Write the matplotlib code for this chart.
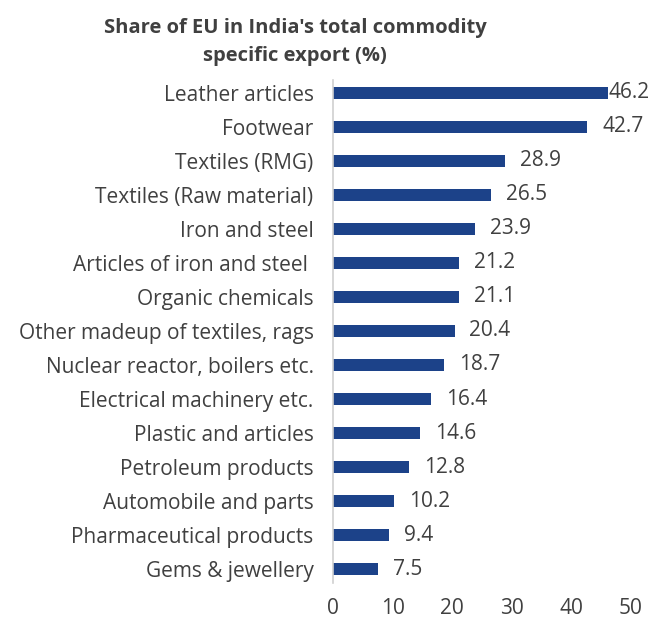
import matplotlib
matplotlib.use("Agg")
import matplotlib.pyplot as plt

categories = [
    "Leather articles",
    "Footwear",
    "Textiles (RMG)",
    "Textiles (Raw material)",
    "Iron and steel",
    "Articles of iron and steel ",
    "Organic chemicals",
    "Other madeup of textiles, rags",
    "Nuclear reactor, boilers etc.",
    "Electrical machinery etc.",
    "Plastic and articles",
    "Petroleum products",
    "Automobile and parts",
    "Pharmaceutical products",
    "Gems & jewellery",
]
values = [46.2, 42.7, 28.9, 26.5, 23.9, 21.2, 21.1, 20.4, 18.7, 16.4, 14.6, 12.8, 10.2, 9.4, 7.5]
x_ticks = [0, 10, 20, 30, 40, 50]
title = "Share of EU in India's total commodity\nspecific export (%)"

plt.rcParams["font.family"] = ["Open Sans", "DejaVu Sans"]
text_color = "#404040"
bar_color = "#1c4289"

fig = plt.figure(figsize=(6.51, 6.20), dpi=100)
ax = fig.add_axes([333 / 651, 37 / 620, (631 - 333) / 651, (583 - 80) / 620])

n = len(categories)
ypos = [n - 1 - i for i in range(n)]
ax.barh(ypos, values, height=0.36, color=bar_color, zorder=2)

for y, v in zip(ypos, values):
    ax.text(min(v + 2.5, 46.3), y, f"{v:.1f}", va="center", ha="left",
            fontsize=15, color=text_color)

ax.set_xlim(0, 50)
ax.set_ylim(-0.41, n - 1 + 0.38)
ax.set_yticks(ypos)
ax.set_yticklabels(categories, fontsize=15, color=text_color)
ax.set_xticks(x_ticks)
ax.set_xticklabels([str(t) for t in x_ticks], fontsize=15, color=text_color)
ax.tick_params(axis="both", length=0)
ax.tick_params(axis="x", pad=11)
ax.tick_params(axis="y", pad=14)

for side in ["top", "right", "bottom"]:
    ax.spines[side].set_visible(False)
ax.spines["left"].set_color("#d0d0d0")
ax.spines["left"].set_linewidth(1.2)

fig.text(295 / 651, 1 - 42 / 620, title, ha="center", va="center",
         fontsize=14.5, fontweight="bold", color=text_color, linespacing=1.5)

fig.savefig("out.png", dpi=100)
